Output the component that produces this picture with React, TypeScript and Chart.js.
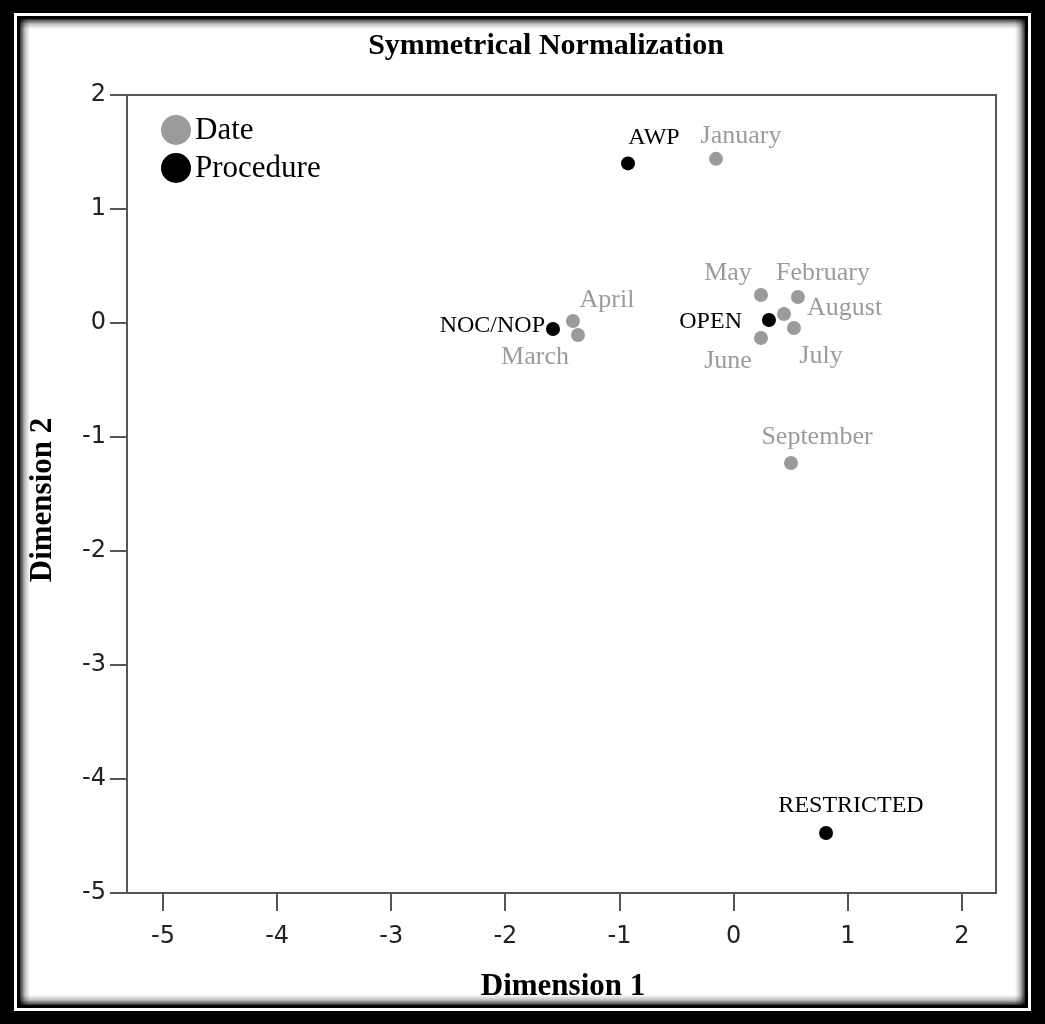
import React, { useEffect, useRef } from "react";
import { Chart, registerables } from "chart.js";

Chart.register(...registerables);

// ---- data ----
const dateLabels = ["January", "February", "March", "April", "May", "June", "July", "August", "September"];
const dateX = [-0.155, 0.563, -1.364, -1.408, 0.239, 0.239, 0.528, 0.441, 0.502];
const dateY = [1.44, 0.228, -0.105, 0.018, 0.246, -0.132, -0.044, 0.079, -1.228];

const procLabels = ["AWP", "NOC/NOP", "OPEN", "RESTRICTED"];
const procX = [-0.926, -1.583, 0.309, 0.809];
const procY = [1.40, -0.053, 0.026, -4.474];

const xTicks = [-5, -4, -3, -2, -1, 0, 1, 2];
const yTicks = [2, 1, 0, -1, -2, -3, -4, -5];

const titleText = "Symmetrical Normalization";
const xTitle = "Dimension 1";
const yTitle = "Dimension 2";
const legendNames = ["Date", "Procedure"];

// ---- styling / label placement (pixels relative to point) ----
const GRAY = "#9b9b9b";
const DARK = "#555555";
const SERIF = "'Liberation Serif', 'Times New Roman', serif";
const SANS = "'DejaVu Sans', sans-serif";

const dateLabelPos: [number, number, CanvasTextAlign][] = [
  [25, -23, "center"], // January
  [25, -24, "center"], // February
  [-43, 22, "center"], // March
  [34, -21, "center"], // April
  [-33, -22, "center"], // May
  [-33, 23, "center"], // June
  [27, 28, "center"], // July
  [23, -6, "left"], // August
  [26, -26, "center"], // September
];
const procLabelPos: [number, number, CanvasTextAlign][] = [
  [26, -26, "center"], // AWP
  [-8, -3, "right"], // NOC/NOP
  [-27, 2, "right"], // OPEN
  [25, -27, "center"], // RESTRICTED
];

const W = 1045;
const H = 1024;

const framePlugin = {
  id: "frame",
  beforeDraw(chart: any) {
    const ctx = chart.ctx as CanvasRenderingContext2D;
    ctx.save();
    ctx.fillStyle = "#000";
    ctx.fillRect(0, 0, W, H);
    ctx.fillStyle = "#fff";
    ctx.fillRect(14, 13, W - 28, H - 26);
    ctx.fillStyle = "#000";
    ctx.fillRect(17, 16, W - 34, H - 32);
    const x0 = 20, y0 = 19, x1 = W - 20, y1 = H - 19;
    ctx.fillStyle = "#fff";
    ctx.fillRect(x0, y0, x1 - x0, y1 - y0);
    const sh = 10;
    const mk = (ax: number, ay: number, bx: number, by: number) => {
      const g = ctx.createLinearGradient(ax, ay, bx, by);
      g.addColorStop(0, "rgba(0,0,0,0.8)");
      g.addColorStop(0.5, "rgba(0,0,0,0.25)");
      g.addColorStop(1, "rgba(0,0,0,0)");
      return g;
    };
    ctx.fillStyle = mk(x0, 0, x0 + sh, 0);
    ctx.fillRect(x0, y0, sh, y1 - y0);
    ctx.fillStyle = mk(x1, 0, x1 - sh, 0);
    ctx.fillRect(x1 - sh, y0, sh, y1 - y0);
    ctx.fillStyle = mk(0, y0, 0, y0 + sh);
    ctx.fillRect(x0, y0, x1 - x0, sh);
    ctx.fillStyle = mk(0, y1, 0, y1 - sh);
    ctx.fillRect(x0, y1 - sh, x1 - x0, sh);
    ctx.restore();
  },
  afterDraw(chart: any) {
    const ctx = chart.ctx as CanvasRenderingContext2D;
    const a = chart.chartArea;
    ctx.save();
    ctx.strokeStyle = DARK;
    ctx.lineWidth = 2;
    ctx.beginPath();
    ctx.moveTo(a.left, a.top);
    ctx.lineTo(a.right, a.top);
    ctx.lineTo(a.right, a.bottom);
    ctx.stroke();

    ctx.fillStyle = "#000";
    ctx.textBaseline = "middle";
    ctx.textAlign = "center";
    ctx.font = `bold 30px ${SERIF}`;
    ctx.fillText(titleText, 546, 46);
    ctx.font = `bold 31px ${SERIF}`;
    ctx.fillText(xTitle, 563, 987);
    ctx.save();
    ctx.translate(43, 500);
    ctx.rotate(-Math.PI / 2);
    ctx.fillText(yTitle, 0, 0);
    ctx.restore();

    const legendColors = [GRAY, "#000"];
    ctx.font = `31px ${SERIF}`;
    ctx.textAlign = "left";
    legendNames.forEach((n, i) => {
      const cy = 130 + i * 38;
      ctx.fillStyle = legendColors[i];
      ctx.beginPath();
      ctx.arc(176, cy, 15, 0, Math.PI * 2);
      ctx.fill();
      ctx.fillStyle = "#000";
      ctx.fillText(n, 195, cy + 1);
    });

    const drawLabels = (dsIndex: number, labels: string[], pos: [number, number, CanvasTextAlign][], color: string, size: number) => {
      const meta = chart.getDatasetMeta(dsIndex);
      ctx.fillStyle = color;
      ctx.font = `${size}px ${SERIF}`;
      meta.data.forEach((el: any, i: number) => {
        const [dx, dy, al] = pos[i];
        ctx.textAlign = al;
        ctx.fillText(labels[i], el.x + dx, el.y + dy);
      });
    };
    drawLabels(0, dateLabels, dateLabelPos, GRAY, 26);
    drawLabels(1, procLabels, procLabelPos, "#000", 24);
    ctx.restore();
  },
};

export default function App() {
  const ref = useRef<HTMLCanvasElement>(null);
  useEffect(() => {
    document.body.style.margin = "0";
    const chart = new Chart(ref.current!, {
      type: "scatter",
      data: {
        datasets: [
          {
            label: legendNames[0],
            data: dateX.map((x, i) => ({ x, y: dateY[i] })),
            backgroundColor: GRAY,
            borderColor: GRAY,
            pointRadius: 7,
            borderWidth: 0,
          },
          {
            label: legendNames[1],
            data: procX.map((x, i) => ({ x, y: procY[i] })),
            backgroundColor: "#000",
            borderColor: "#000",
            pointRadius: 7,
            borderWidth: 0,
          },
        ],
      },
      options: {
        responsive: false,
        animation: false,
        layout: { padding: { top: 95, right: 49, left: 0, bottom: 0 } },
        plugins: { legend: { display: false }, tooltip: { enabled: false }, title: { display: false } },
        scales: {
          x: {
            type: "linear",
            min: -5.315,
            max: 2.298,
            afterBuildTicks: (s: any) => {
              s.ticks = xTicks.map((v) => ({ value: v }));
            },
            afterFit: (s: any) => {
              s.height = 131;
            },
            grid: { drawOnChartArea: false, drawTicks: true, tickLength: 18, color: DARK, lineWidth: 2 },
            border: { display: true, color: DARK, width: 2 },
            ticks: { color: "#222", font: { family: SANS, size: 24 }, padding: 11, callback: (v: any) => String(v) },
          },
          y: {
            type: "linear",
            min: -5,
            max: 2,
            afterBuildTicks: (s: any) => {
              s.ticks = yTicks.map((v) => ({ value: v }));
            },
            afterFit: (s: any) => {
              s.width = 127;
            },
            grid: { drawOnChartArea: false, drawTicks: true, tickLength: 17, color: DARK, lineWidth: 2 },
            border: { display: true, color: DARK, width: 2 },
            ticks: { color: "#222", font: { family: SANS, size: 24 }, padding: 4, callback: (v: any) => String(v) },
          },
        },
      },
      plugins: [framePlugin],
    });
    return () => chart.destroy();
  }, []);
  return (
    <div style={{ position: "absolute", left: 0, top: 0, width: W, height: H }}>
      <canvas ref={ref} width={W} height={H} style={{ display: "block", width: W, height: H }} />
    </div>
  );
}
